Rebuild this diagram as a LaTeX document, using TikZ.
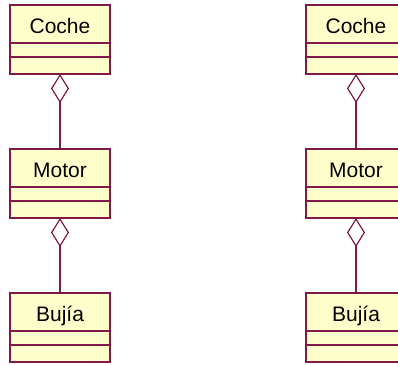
\documentclass[tikz,border=0pt]{standalone}
\usepackage{fontspec}
\setmainfont{Liberation Sans}
\usetikzlibrary{arrows.meta}
\definecolor{umlborder}{RGB}{128,24,72}
\definecolor{umlfill}{RGB}{255,255,204}
\tikzset{
  classbox/.style={draw=umlborder, fill=umlfill, line width=1.6pt, minimum width=100pt, minimum height=69pt, inner sep=0pt, outer sep=0pt},
  classname/.style={anchor=base, inner sep=0pt, font=\fontsize{21pt}{24pt}\selectfont},
  divider/.style={draw=umlborder, line width=1.6pt},
  aggr/.style={draw=umlborder, line width=1.6pt, {Diamond[open, length=29pt, width=18pt, line width=1.2pt]}-}
}
\newcommand{\umlclass}[3]{%
  \node[classbox] (#1) at #2 {};
  \node[classname] (#1-name) at ([yshift=-28.5pt]#1.north) {#3};
  \draw[divider] ([yshift=-38pt]#1.north west) -- ([yshift=-38pt]#1.north east);
  \draw[divider] ([yshift=-52pt]#1.north west) -- ([yshift=-52pt]#1.north east);
}
\begin{document}
\begin{tikzpicture}[x=1pt,y=1pt]
\useasboundingbox (0,0) rectangle (398,-364);
\begin{scope}
\clip (0,0) rectangle (398,-364);
\umlclass{cocheA}{(60,-39.5)}{Coche}
\umlclass{motorA}{(60,-183.5)}{Motor}
\umlclass{bujiaA}{(60,-327.5)}{Bujía}
\umlclass{cocheB}{(356,-39.5)}{Coche}
\umlclass{motorB}{(356,-183.5)}{Motor}
\umlclass{bujiaB}{(356,-327.5)}{Bujía}
\draw[aggr] (cocheA.south) -- (motorA.north);
\draw[aggr] (motorA.south) -- (bujiaA.north);
\draw[aggr] (cocheB.south) -- (motorB.north);
\draw[aggr] (motorB.south) -- (bujiaB.north);
\end{scope}
\end{tikzpicture}
\end{document}
